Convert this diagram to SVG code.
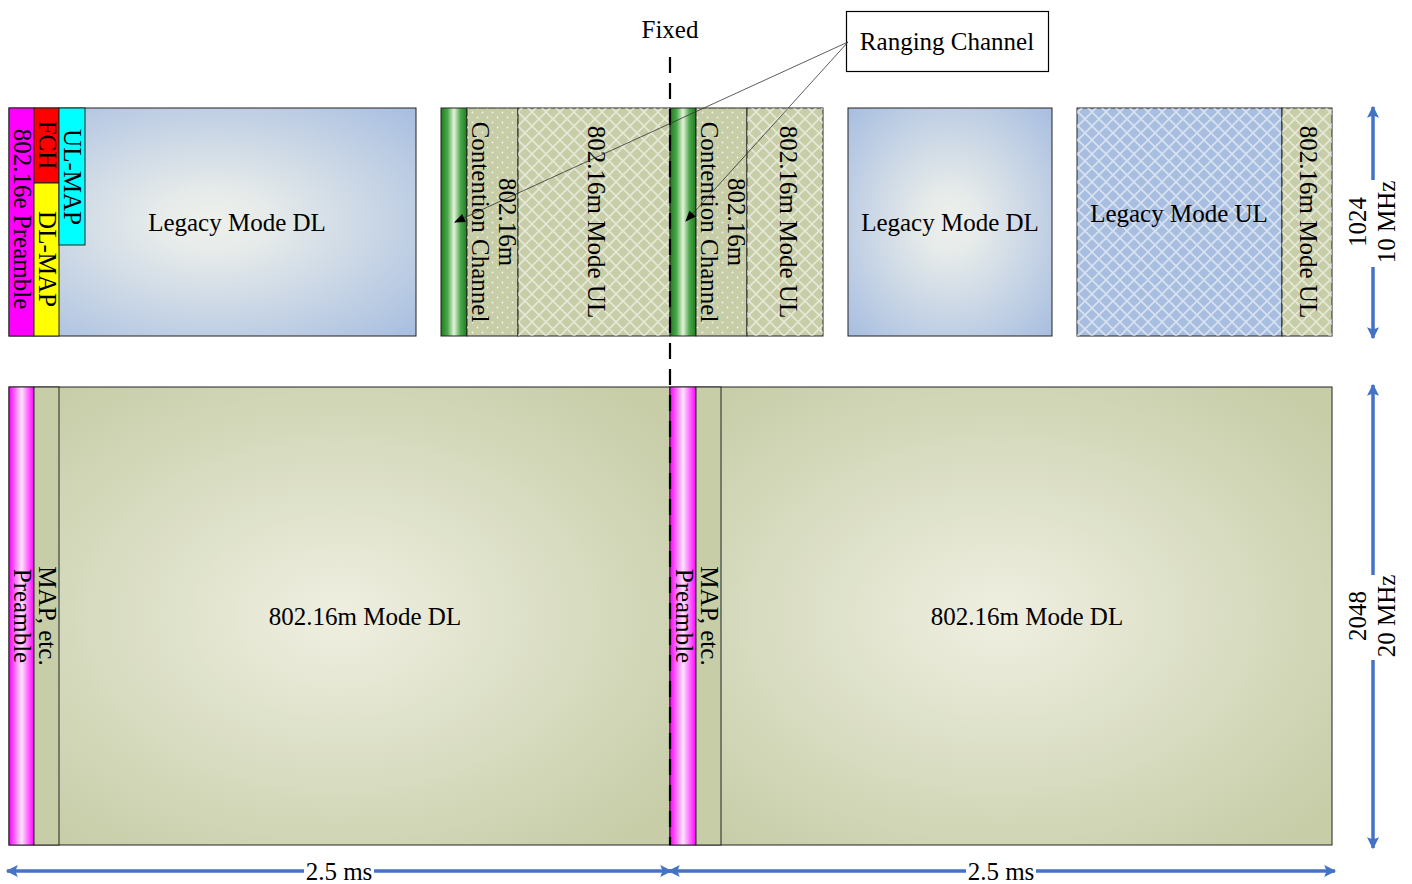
<svg xmlns="http://www.w3.org/2000/svg" width="1412" height="884" viewBox="0 0 1412 884">
<style>
.t{font-family:"Liberation Serif","Times New Roman",serif;font-size:25px;fill:#000}
.c{text-anchor:middle;dominant-baseline:central}
.b{stroke:#222;stroke-width:1}
.dim{stroke:#4472c4;stroke-width:3.5;fill:none}
.lead{stroke:#333;stroke-width:0.8;fill:none}
</style>
<defs>
<radialGradient id="blueG" cx="0.5" cy="0.5" r="0.7">
<stop offset="0" stop-color="#eef0ea"/>
<stop offset="0.2" stop-color="#e6ebea"/>
<stop offset="1" stop-color="#a8bee0"/>
</radialGradient>
<radialGradient id="greenG" cx="0.5" cy="0.5" r="0.65">
<stop offset="0" stop-color="#efefe1"/>
<stop offset="1" stop-color="#c6cda7"/>
</radialGradient>
<linearGradient id="barG" x1="0" y1="0" x2="1" y2="0">
<stop offset="0" stop-color="#1e7a1e"/>
<stop offset="0.25" stop-color="#4aa84a"/>
<stop offset="0.5" stop-color="#e6f3dc"/>
<stop offset="0.75" stop-color="#4aa84a"/>
<stop offset="1" stop-color="#1e7a1e"/>
</linearGradient>
<linearGradient id="magG" x1="0" y1="0" x2="1" y2="0">
<stop offset="0" stop-color="#ff00ff"/>
<stop offset="0.25" stop-color="#ff70ff"/>
<stop offset="0.5" stop-color="#ffe6ff"/>
<stop offset="0.75" stop-color="#ff70ff"/>
<stop offset="1" stop-color="#ff00ff"/>
</linearGradient>
<pattern id="hatch" patternUnits="userSpaceOnUse" width="14" height="14">
<path d="M0,0 L14,14 M14,0 L0,14" stroke="#ffffff" stroke-opacity="0.55" stroke-width="1.6"/>
</pattern>
<pattern id="dots" patternUnits="userSpaceOnUse" width="10" height="10">
<circle cx="2.5" cy="2.5" r="0.9" fill="#ffffff" fill-opacity="0.75"/>
<circle cx="7.5" cy="7.5" r="0.9" fill="#ffffff" fill-opacity="0.75"/>
</pattern>
<marker id="ah" viewBox="0 0 10 10" refX="9" refY="5" markerWidth="13" markerHeight="12" markerUnits="userSpaceOnUse" orient="auto-start-reverse">
<path d="M0,0 L10,5 L0,10 L2,5 Z" fill="#4472c4"/>
</marker>
<marker id="ahk" viewBox="0 0 10 10" refX="9" refY="5" markerWidth="13" markerHeight="11" markerUnits="userSpaceOnUse" orient="auto">
<path d="M0,1 L10,5 L0,9 Z" fill="#000"/>
</marker>
</defs>

<!-- Top block 1 -->
<g id="legacy-dl-1">
<rect x="9" y="108" width="407" height="228" fill="url(#blueG)" class="b"/>
<text class="t c" x="237" y="222">Legacy Mode DL</text>
</g>
<g id="preamble-16e">
<rect x="9" y="108" width="25" height="228" fill="#ff00ff" class="b"/>
<text class="t c" transform="translate(22,219) rotate(90)">802.16e Preamble</text>
</g>
<g id="fch">
<rect x="34" y="108" width="25" height="75" fill="#ff0000" class="b"/>
<text class="t c" transform="translate(47,145) rotate(90)">FCH</text>
</g>
<g id="dl-map">
<rect x="34" y="183" width="25" height="153" fill="#ffff00" class="b"/>
<text class="t c" transform="translate(47,259) rotate(90)">DL-MAP</text>
</g>
<g id="ul-map">
<rect x="59" y="108" width="26" height="137" fill="#00ffff" class="b"/>
<text class="t c" transform="translate(72.5,177) rotate(90)">UL-MAP</text>
</g>

<!-- Top block 2 -->
<g id="ranging-bar-1">
<rect x="441" y="108" width="26" height="228" fill="url(#barG)" class="b"/>
</g>
<g id="contention-1">
<rect x="467" y="108" width="51" height="228" fill="#c6cda7" class="b"/>
<rect x="467" y="108" width="51" height="228" fill="url(#dots)"/>
<text class="t c" transform="translate(507,222) rotate(90)">802.16m</text>
<text class="t c" transform="translate(480,222) rotate(90)">Contention Channel</text>
</g>
<g id="m-ul-1">
<rect x="518" y="108" width="152" height="228" fill="#c6cda7" class="b"/>
<rect x="518" y="108" width="152" height="228" fill="url(#hatch)"/>
<text class="t c" transform="translate(596,222) rotate(90)">802.16m Mode UL</text>
</g>
<g id="ranging-bar-2">
<rect x="670" y="108" width="26" height="228" fill="url(#barG)" class="b"/>
</g>
<g id="contention-2">
<rect x="696" y="108" width="51" height="228" fill="#c6cda7" class="b"/>
<rect x="696" y="108" width="51" height="228" fill="url(#dots)"/>
<text class="t c" transform="translate(736,222) rotate(90)">802.16m</text>
<text class="t c" transform="translate(709,222) rotate(90)">Contention Channel</text>
</g>
<g id="m-ul-2">
<rect x="747" y="108" width="76" height="228" fill="#c6cda7" class="b"/>
<rect x="747" y="108" width="76" height="228" fill="url(#hatch)"/>
<text class="t c" transform="translate(788,222) rotate(90)">802.16m Mode UL</text>
</g>

<!-- Top block 3 -->
<g id="legacy-dl-2">
<rect x="848" y="108" width="204" height="228" fill="url(#blueG)" class="b"/>
<text class="t c" x="950" y="222">Legacy Mode DL</text>
</g>

<!-- Top block 4 -->
<g id="legacy-ul">
<rect x="1077" y="108" width="205" height="228" fill="#a8bee0" class="b"/>
<rect x="1077" y="108" width="205" height="228" fill="url(#hatch)"/>
<text class="t c" x="1179" y="213">Legacy Mode UL</text>
</g>
<g id="m-ul-3">
<rect x="1282" y="108" width="50" height="228" fill="#c6cda7" class="b"/>
<rect x="1282" y="108" width="50" height="228" fill="url(#hatch)"/>
<text class="t c" transform="translate(1308,222) rotate(90)">802.16m Mode UL</text>
</g>

<!-- Bottom row -->
<g id="m-dl-1">
<rect x="9" y="387" width="661" height="458" fill="url(#greenG)" class="b"/>
<text class="t c" x="365" y="616">802.16m Mode DL</text>
</g>
<g id="preamble-1">
<rect x="9" y="387" width="25" height="458" fill="url(#magG)" class="b"/>
<text class="t c" transform="translate(22,616) rotate(90)">Preamble</text>
</g>
<g id="map-1">
<rect x="34" y="387" width="25" height="458" fill="#c6cda7" class="b"/>
<text class="t c" transform="translate(47,616) rotate(90)">MAP, etc.</text>
</g>
<g id="m-dl-2">
<rect x="670" y="387" width="662" height="458" fill="url(#greenG)" class="b"/>
<text class="t c" x="1027" y="616">802.16m Mode DL</text>
</g>
<g id="preamble-2">
<rect x="670" y="387" width="26" height="458" fill="url(#magG)" class="b"/>
<text class="t c" transform="translate(684,616) rotate(90)">Preamble</text>
</g>
<g id="map-2">
<rect x="696" y="387" width="25" height="458" fill="#c6cda7" class="b"/>
<text class="t c" transform="translate(709,616) rotate(90)">MAP, etc.</text>
</g>

<!-- Labels -->
<g id="fixed">
<text class="t" x="670" y="38" text-anchor="middle" font-size="24">Fixed</text>
</g>
<g id="ranging-channel">
<rect x="846.5" y="11.5" width="202" height="60" fill="#fff" stroke="#000" stroke-width="1.2"/>
<text class="t c" x="947" y="41">Ranging Channel</text>
</g>

<!-- Connectors -->
<g id="connectors">
<line x1="670" y1="57" x2="670" y2="845" stroke="#000" stroke-width="2.2" stroke-dasharray="16 10"/>
<line class="lead" x1="848" y1="42" x2="455" y2="222" marker-end="url(#ahk)"/>
<line class="lead" x1="848" y1="42" x2="686" y2="221" marker-end="url(#ahk)"/>
<line class="dim" x1="1373" y1="180" x2="1373" y2="107" marker-end="url(#ah)"/>
<line class="dim" x1="1373" y1="267" x2="1373" y2="338" marker-end="url(#ah)"/>
<line class="dim" x1="1373" y1="575" x2="1373" y2="385" marker-end="url(#ah)"/>
<line class="dim" x1="1373" y1="660" x2="1373" y2="848" marker-end="url(#ah)"/>
<line class="dim" x1="7" y1="871" x2="671" y2="871" marker-start="url(#ah)" marker-end="url(#ah)"/>
<line class="dim" x1="669" y1="871" x2="1335" y2="871" marker-start="url(#ah)" marker-end="url(#ah)"/>
</g>

<g id="dim-labels">
<text class="t c" transform="translate(1357,222) rotate(-90)">1024</text>
<text class="t c" transform="translate(1386,222) rotate(-90)">10 MHz</text>
<text class="t c" transform="translate(1357,616) rotate(-90)">2048</text>
<text class="t c" transform="translate(1386,616) rotate(-90)">20 MHz</text>
<rect x="304" y="858" width="70" height="26" fill="#fff"/>
<text class="t" x="339" y="880" text-anchor="middle">2.5 ms</text>
<rect x="966" y="858" width="70" height="26" fill="#fff"/>
<text class="t" x="1001" y="880" text-anchor="middle">2.5 ms</text>
</g>
</svg>
